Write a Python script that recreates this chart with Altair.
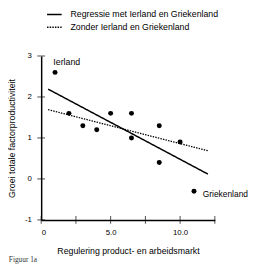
import altair as alt
import pandas as pd

# data
x_vals = [1, 2, 3, 4, 5, 6.5, 6.5, 8.5, 10, 8.5, 11]
y_vals = [2.6, 1.6, 1.3, 1.2, 1.6, 1.6, 1.0, 1.3, 0.9, 0.4, -0.3]
names = ["Ierland", "", "", "", "", "", "", "", "", "", "Griekenland"]
x_ticks = [0, 2.5, 5, 7.5, 10, 12.5]
y_ticks = [-1, 0, 1, 2, 3]
series = ["Regressie met Ierland en Griekenland", "Zonder Ierland en Griekenland"]
fit_extent = [0.5, 12]

df = pd.DataFrame({"x": x_vals, "y": y_vals, "land": names})
xt = pd.DataFrame({"t": x_ticks})
yt = pd.DataFrame({"t": y_ticks})

FONT = "Liberation Sans"
xs = alt.Scale(domain=[0, 12.5], nice=False, zero=False)
ys = alt.Scale(domain=[-1, 3], nice=False, zero=False)

axis_common = dict(domain=True, domainColor="black", domainWidth=1.5, ticks=False, grid=False,
                   labelFont=FONT, labelFontSize=8, labelColor="black",
                   titleFont=FONT, titleFontSize=9, titleFontWeight="normal", titleColor="black")

X = alt.X("x:Q", scale=xs, axis=alt.Axis(
    title="Regulering product- en arbeidsmarkt", values=x_ticks,
    labelExpr="datum.value == 0 ? '0' : format(datum.value, '.1f')",
    labelPadding=9, titlePadding=10, **axis_common))
Y = alt.Y("y:Q", scale=ys, axis=alt.Axis(
    title="Groei totale factorproductiviteit", values=y_ticks,
    labelExpr="datum.value < 0 ? '-' + abs(datum.value) : '' + datum.value",
    labelPadding=10, titlePadding=8, **axis_common))

points = alt.Chart(df).mark_circle(size=26, color="black", opacity=1).encode(x=X, y=Y)

dash = alt.StrokeDash("serie:N", scale=alt.Scale(domain=series, range=[[1, 0], [1.5, 1.2]]),
                      legend=alt.Legend(title=None, orient="none", legendX=6, legendY=-50,
                                        symbolType="M-1.15,0H1.15", symbolSize=169,
                                        symbolStrokeWidth=1.5, symbolStrokeColor="black",
                                        labelFont=FONT, labelFontSize=9, labelColor="black",
                                        labelOffset=9, rowPadding=0, padding=0))

line_all = alt.Chart(df).transform_regression("x", "y", extent=fit_extent).transform_calculate(
    serie=f"'{series[0]}'").mark_line(color="black", strokeWidth=1.5).encode(
    x=alt.X("x:Q", scale=xs), y=alt.Y("y:Q", scale=ys), strokeDash=dash)

line_sub = alt.Chart(df).transform_filter("datum.land == ''").transform_regression(
    "x", "y", extent=fit_extent).transform_calculate(
    serie=f"'{series[1]}'").mark_line(color="black", strokeWidth=1.3).encode(
    x=alt.X("x:Q", scale=xs), y=alt.Y("y:Q", scale=ys), strokeDash=dash)

lab1 = alt.Chart(df).transform_filter("datum.land == 'Ierland'").mark_text(
    font=FONT, fontSize=9, color="black", dx=12, dy=-11).encode(
    x=alt.X("x:Q", scale=xs), y=alt.Y("y:Q", scale=ys), text="land:N")
lab2 = alt.Chart(df).transform_filter("datum.land == 'Griekenland'").mark_text(
    font=FONT, fontSize=8.6, color="black", align="left", dx=9, dy=3).encode(
    x=alt.X("x:Q", scale=xs), y=alt.Y("y:Q", scale=ys), text="land:N")

xticks = alt.Chart(xt).mark_tick(orient="vertical", size=8, thickness=1, color="black").encode(
    x=alt.X("t:Q", scale=xs), y=alt.YDatum(-1, scale=ys))
yticks = alt.Chart(yt).mark_tick(orient="horizontal", size=8, thickness=1, color="black").encode(
    y=alt.Y("t:Q", scale=ys), x=alt.XDatum(0, scale=xs))

chart = alt.layer(points, line_all, line_sub, lab1, lab2, xticks, yticks).properties(
    width=178, height=168,
    autosize=alt.AutoSizeParams(type="none"),
    padding={"left": 34, "top": 46, "right": 35, "bottom": 42},
    background="white",
    title=alt.TitleParams("Figuur 1a", orient="bottom", anchor="start", frame="bounds",
                          font="Liberation Serif", fontSize=7.5, fontWeight="normal",
                          color="#333", dx=1, offset=1),
).configure_view(stroke=None)

chart.save("out.html", embed_options={"renderer": "svg", "actions": False})
